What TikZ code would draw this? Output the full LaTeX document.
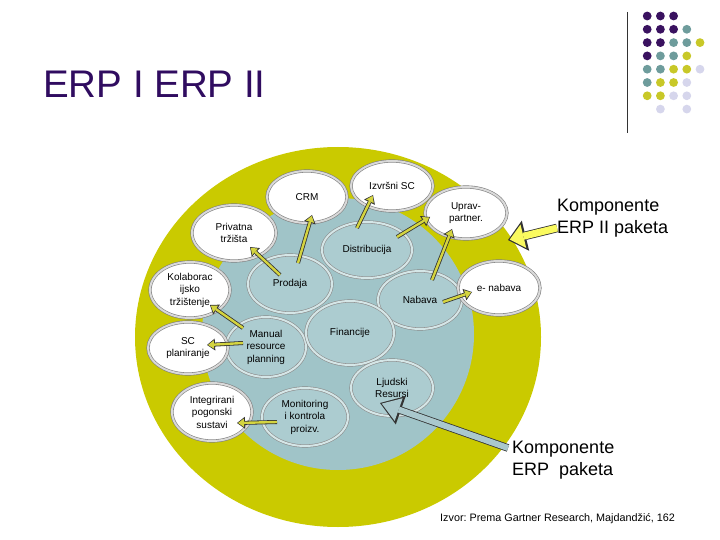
\documentclass[tikz,border=0pt]{standalone}
\usepackage{fontspec}
\setmainfont{Liberation Sans}
\usetikzlibrary{shapes.geometric, arrows.meta, positioning, calc}
\definecolor{ringyellow}{RGB}{202,202,0}
\definecolor{innerblue}{RGB}{160,196,200}
\definecolor{ellblue}{RGB}{172,204,208}
\definecolor{arrowyellow}{RGB}{212,212,64}
\definecolor{bigyellow}{RGB}{250,250,95}
\definecolor{biggray}{RGB}{170,200,205}
\definecolor{titlepurple}{RGB}{48,12,96}
\definecolor{dotpurple}{RGB}{58,18,96}
\definecolor{dotteal}{RGB}{110,156,156}
\definecolor{dotyellow}{RGB}{200,200,40}
\definecolor{dotlilac}{RGB}{214,214,236}
\frenchspacing

\begin{document}
\begin{tikzpicture}[
    x=1pt, y=-1pt,
    font=\fontsize{10}{12.5}\selectfont,
    wbox/.style={ellipse, draw=black!50, line width=0.6pt,
                 double=black!15, double distance=2pt,
                 fill=white, inner sep=0pt, align=center},
    bbox/.style={ellipse, draw=black!45, line width=0.6pt,
                 double=ellblue!50!white, double distance=2pt,
                 fill=ellblue, inner sep=0pt, align=center},
    ya/.style={line width=2.4pt, draw=arrowyellow, shorten >=1pt,
               -{Triangle[length=6pt, width=8.5pt, line width=0pt]},
               preaction={draw=black!80, line width=4pt, shorten >=0pt,
               -{Triangle[length=8pt, width=12pt, line width=0pt]}}},
    yba/.style={line width=7pt, draw=bigyellow, shorten >=1.8pt,
               -{Triangle[length=14pt, width=24pt, line width=0pt]},
               preaction={draw=black!80, line width=8.6pt, shorten >=0pt,
               -{Triangle[length=18pt, width=31pt, line width=0pt]}}},
    gba/.style={line width=6pt, draw=biggray, shorten >=1.8pt,
               -{Triangle[length=18pt, width=24pt, line width=0pt]},
               preaction={draw=black!80, line width=7.6pt, shorten >=0pt,
               -{Triangle[length=22pt, width=30pt, line width=0pt]}}},
]
\useasboundingbox (0,0) rectangle (720,540);

%% --- title and corner decoration ---
\node[anchor=base west, inner sep=0pt, text=titlepurple,
      font=\fontsize{38.5}{40}\selectfont] (title) at (43,98) {ERP I ERP II};

\draw[black!80, line width=1pt] (627,12) -- (627,133);
\foreach \c/\r/\col in {1/1/dotpurple, 2/1/dotpurple, 3/1/dotpurple,
    1/2/dotpurple, 2/2/dotpurple, 3/2/dotpurple, 4/2/dotteal,
    1/3/dotpurple, 2/3/dotpurple, 3/3/dotteal, 4/3/dotteal, 5/3/dotyellow,
    1/4/dotpurple, 2/4/dotteal, 3/4/dotteal, 4/4/dotyellow,
    1/5/dotteal, 2/5/dotteal, 3/5/dotyellow, 4/5/dotyellow, 5/5/dotlilac,
    1/6/dotteal, 2/6/dotyellow, 3/6/dotyellow, 4/6/dotlilac,
    1/7/dotyellow, 2/7/dotyellow, 3/7/dotlilac, 4/7/dotlilac,
    2/8/dotlilac, 4/8/dotlilac}
  \fill[\col] ({634+13.2*\c},{2.7+13.3*\r}) circle (4.4pt);

%% --- rings ---
\node[ellipse, fill=ringyellow, inner sep=0pt,
      minimum width=406pt, minimum height=380pt] (ring) at (338,337) {};
\node[circle, fill=innerblue, inner sep=0pt,
      minimum size=272pt] (core) at (338,334) {};

%% --- ERP components ---
\node[bbox, minimum width=84pt, minimum height=58pt] (prodaja) at (290,284) {Prodaja};
\node[bbox, minimum width=90pt, minimum height=56pt] (distrib) at (367,250) {Distribucija};
\node[bbox, minimum width=84pt, minimum height=58pt] (nabava) at (420,300) {Nabava};
\node[bbox, minimum width=80pt, minimum height=60pt] (manual) at (266,347) {Manual\\resource\\planning};
\node[bbox, minimum width=88pt, minimum height=64pt] (financ) at (350,333) {Financije};
\node[bbox, minimum width=82pt, minimum height=56pt] (ljudski) at (392,388) {Ljudski\\Resursi};
\node[bbox, minimum width=86pt, minimum height=58pt] (monitor) at (305,417) {Monitoring\\i kontrola\\proizv.};

%% --- ERP II components ---
\node[wbox, minimum width=80pt, minimum height=52pt] (crm) at (307,197) {CRM};
\node[wbox, minimum width=82pt, minimum height=50pt] (izvrsni) at (392,186) {Izvršni SC};
\node[wbox, minimum width=82pt, minimum height=52pt] (uprav) at (466,213) {Uprav-\\partner.};
\node[wbox, minimum width=82pt, minimum height=54pt] (enabava) at (499,288) {e- nabava};
\node[wbox, minimum width=84pt, minimum height=56pt] (privatna) at (234,233) {Privatna\\tržišta};
\node[wbox, minimum width=80pt, minimum height=56pt] (kolab) at (190,290) {Kolaborac\\ijsko\\tržištenje};
\node[wbox, minimum width=80pt, minimum height=52pt] (scplan) at (188,348) {SC\\planiranje};
\node[wbox, minimum width=80pt, minimum height=58pt] (integ) at (212,412) {Integrirani\\pogonski\\sustavi};

%% --- arrows ERP -> ERP II ---
\draw[ya] ($(prodaja)+(8,-21)$) -- ($(crm)+(5,18)$);
\draw[ya] ($(prodaja)+(-10,-9)$) -- ($(privatna)+(16,14)$);
\draw[ya] ($(distrib)+(-10,-22)$) -- ($(izvrsni)+(-19,9)$);
\draw[ya] ($(distrib)+(30,-13)$) -- ($(uprav)+(-36,4)$);
\draw[ya] ($(nabava)+(12,-20)$) -- ($(uprav)+(-14,16)$);
\draw[ya] ($(nabava)+(23,2)$) -- ($(enabava)+(-27,4)$);
\draw[ya] ($(manual)+(-23,-19)$) -- ($(kolab)+(20,15)$);
\draw[ya] ($(manual)+(-23,-4)$) -- ($(scplan)+(19,-3)$);
\draw[ya] ($(monitor)+(-28,5)$) -- ($(integ)+(25,11)$);

%% --- legend labels ---
\node[anchor=west, align=left, inner sep=0pt,
      font=\fontsize{18}{22}\selectfont] (erp2lbl) at (557,218)
     {Komponente\\ERP II paketa};
\node[anchor=west, align=left, inner sep=0pt,
      font=\fontsize{18}{22}\selectfont] (erplbl) at (512,460)
     {Komponente\\ERP\ \ paketa};
\node[anchor=base west, inner sep=0pt,
      font=\fontsize{10.8}{12}\selectfont] (izvor) at (440,521)
     {Izvor: Prema Gartner Research, Majdandžić, 162};

\coordinate (erp2tip) at (508,240);
\draw[yba] ($(erp2lbl.west)+(0,10)$) -- (erp2tip);
\draw[gba] ($(erplbl.west)+(-4,-12)$) -- ($(ljudski)+(-12,15)$);

\end{tikzpicture}
\end{document}
